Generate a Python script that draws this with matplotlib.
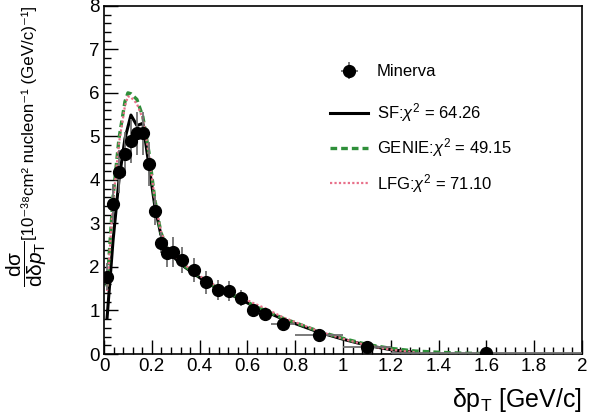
import numpy as np
import matplotlib
matplotlib.use("Agg")
import matplotlib.pyplot as plt
from matplotlib.ticker import MultipleLocator

plt.rcParams['font.family'] = ['Liberation Sans', 'DejaVu Sans']
plt.rcParams['mathtext.fontset'] = 'custom'
plt.rcParams['mathtext.rm'] = 'Liberation Sans'
plt.rcParams['mathtext.it'] = 'Liberation Sans:italic'
plt.rcParams['mathtext.sf'] = 'Liberation Sans'
plt.rcParams['axes.unicode_minus'] = False

# Minerva data (bin centres, half widths, values, errors)
bin_centres = [0.0125, 0.0375, 0.0625, 0.0875, 0.1125, 0.1375, 0.1625, 0.1875,
               0.2125, 0.2375, 0.2625, 0.2875, 0.325, 0.375, 0.425, 0.475,
               0.525, 0.575, 0.625, 0.675, 0.75, 0.9, 1.1, 1.6]
bin_half = [0.0125] * 12 + [0.025] * 8 + [0.05, 0.1, 0.1, 0.4]
data_y = [1.78, 3.45, 4.19, 4.60, 4.89, 5.07, 5.07, 4.36, 3.29, 2.56, 2.31, 2.35,
          2.16, 1.93, 1.65, 1.47, 1.45, 1.28, 1.00, 0.92, 0.70, 0.44, 0.17, 0.02]
data_err = [0.30, 0.45, 0.50, 0.50, 0.50, 0.50, 0.50, 0.50, 0.33, 0.25, 0.30, 0.35,
            0.30, 0.27, 0.26, 0.23, 0.23, 0.18, 0.15, 0.13, 0.10, 0.07, 0.04, 0.02]

# model curves
sf_x = [0.0125, 0.0375, 0.0625, 0.0875, 0.1125, 0.1375, 0.1625, 0.1875, 0.2125,
        0.2375, 0.2625, 0.2875, 0.325, 0.375, 0.425, 0.475, 0.525, 0.575, 0.625,
        0.675, 0.75, 0.9, 1.0, 1.1, 1.2, 1.3]
sf_y = [0.82, 2.60, 4.00, 4.95, 5.49, 5.25, 5.30, 4.35, 3.40, 2.75, 2.42, 2.25,
        2.05, 1.85, 1.66, 1.50, 1.38, 1.25, 1.10, 0.98, 0.80, 0.50, 0.34, 0.20,
        0.10, 0.04]
genie_x = [0.0125, 0.0375, 0.0625, 0.0875, 0.1, 0.1125, 0.1375, 0.1625, 0.1875,
           0.2125, 0.2375, 0.2625, 0.2875, 0.325, 0.375, 0.425, 0.475, 0.525,
           0.575, 0.625, 0.675, 0.75, 0.9, 1.0, 1.1, 1.2, 1.3, 1.4, 1.5, 1.6]
genie_y = [1.55, 3.60, 4.95, 5.80, 6.00, 5.98, 5.85, 5.45, 4.65, 3.55, 2.80, 2.45,
           2.27, 2.07, 1.87, 1.67, 1.52, 1.40, 1.26, 1.12, 1.00, 0.82, 0.52, 0.36,
           0.22, 0.13, 0.07, 0.04, 0.02, 0.01]
lfg_x = [0.0125, 0.0375, 0.0625, 0.0875, 0.1, 0.1125, 0.1375, 0.1625, 0.1875,
         0.2125, 0.2375, 0.2625, 0.2875, 0.325, 0.375, 0.425, 0.475, 0.525,
         0.575, 0.625, 0.675, 0.75, 0.9, 1.0, 1.1, 1.2, 1.3]
lfg_y = [1.45, 3.50, 4.85, 5.70, 5.92, 5.90, 5.75, 5.40, 4.60, 3.55, 2.82, 2.48,
         2.30, 2.10, 1.90, 1.70, 1.55, 1.43, 1.30, 1.17, 1.05, 0.84, 0.52, 0.35,
         0.20, 0.10, 0.04]

fig = plt.figure(figsize=(5.98, 4.16), dpi=100)
ax = fig.add_axes([0.174, 0.149, 0.799, 0.837])

sf_line, = ax.plot(sf_x, sf_y, color='black', lw=2.2, zorder=3)
genie_line, = ax.plot(genie_x, genie_y, color='#2f8f3a', lw=2.4, ls=(0, (2, 1.2)), zorder=4)
lfg_line, = ax.plot(lfg_x, lfg_y, color='#e8708a', lw=1.6, ls=(0, (1, 1)), zorder=5)
data_pts = ax.errorbar(bin_centres, data_y, xerr=bin_half, yerr=data_err, fmt='o',
                       color='black', ecolor='#707070', elinewidth=1.3, markersize=8.5,
                       capsize=0, zorder=6)

ax.set_xlim(0, 2)
ax.set_ylim(0, 8)
ax.xaxis.set_minor_locator(MultipleLocator(0.04))
ax.yaxis.set_major_locator(MultipleLocator(1))
ax.yaxis.set_minor_locator(MultipleLocator(0.2))
ax.set_xticks(np.arange(0, 2.01, 0.2))
ax.set_xticklabels(['0', '0.2', '0.4', '0.6', '0.8', '1', '1.2', '1.4', '1.6', '1.8', '2'])
ax.tick_params(which='both', direction='in', top=False, right=False,
               labelsize=13.5, width=1)
ax.tick_params(which='major', length=10, pad=3)
ax.tick_params(which='minor', length=5)
for s in ax.spines.values():
    s.set_linewidth(1.2)

ax.set_xlabel('δp$_{\\rm T}$ [GeV/c]', fontsize=18, ha='right', x=1.0, labelpad=8)

# y title: bracket part on top, big fraction below
fig.text(29 / 598, 1 - 6 / 416,
         '[10⁻³⁸cm² nucleon⁻¹ (GeV/c)⁻¹]',
         rotation=90, ha='center', va='top', fontsize=12.2)
fig.text(27 / 598, 1 - 241 / 416,
         r'$\dfrac{\rm d\sigma}{\rm d\delta \it{p}_{\rm T}}$',
         rotation=90, ha='center', va='top', fontsize=15)

# legend: data entry on its own, model lines below
leg_kw = dict(frameon=False, fontsize=12, handlelength=2.3, handletextpad=0.5,
              borderpad=0, borderaxespad=0, loc='center left',
              bbox_transform=fig.transFigure)
leg1 = ax.legend([data_pts], ['Minerva'], bbox_to_anchor=(330 / 598, 1 - 72 / 416), **leg_kw)
ax.add_artist(leg1)
ax.legend([sf_line, genie_line, lfg_line],
          [r'SF:$\chi^{2}$ = 64.26', r'GENIE:$\chi^{2}$ = 49.15', r'LFG:$\chi^{2}$ = 71.10'],
          bbox_to_anchor=(330 / 598, 1 - 148 / 416), labelspacing=0.75, **leg_kw)

fig.savefig('out.png', dpi=100)
